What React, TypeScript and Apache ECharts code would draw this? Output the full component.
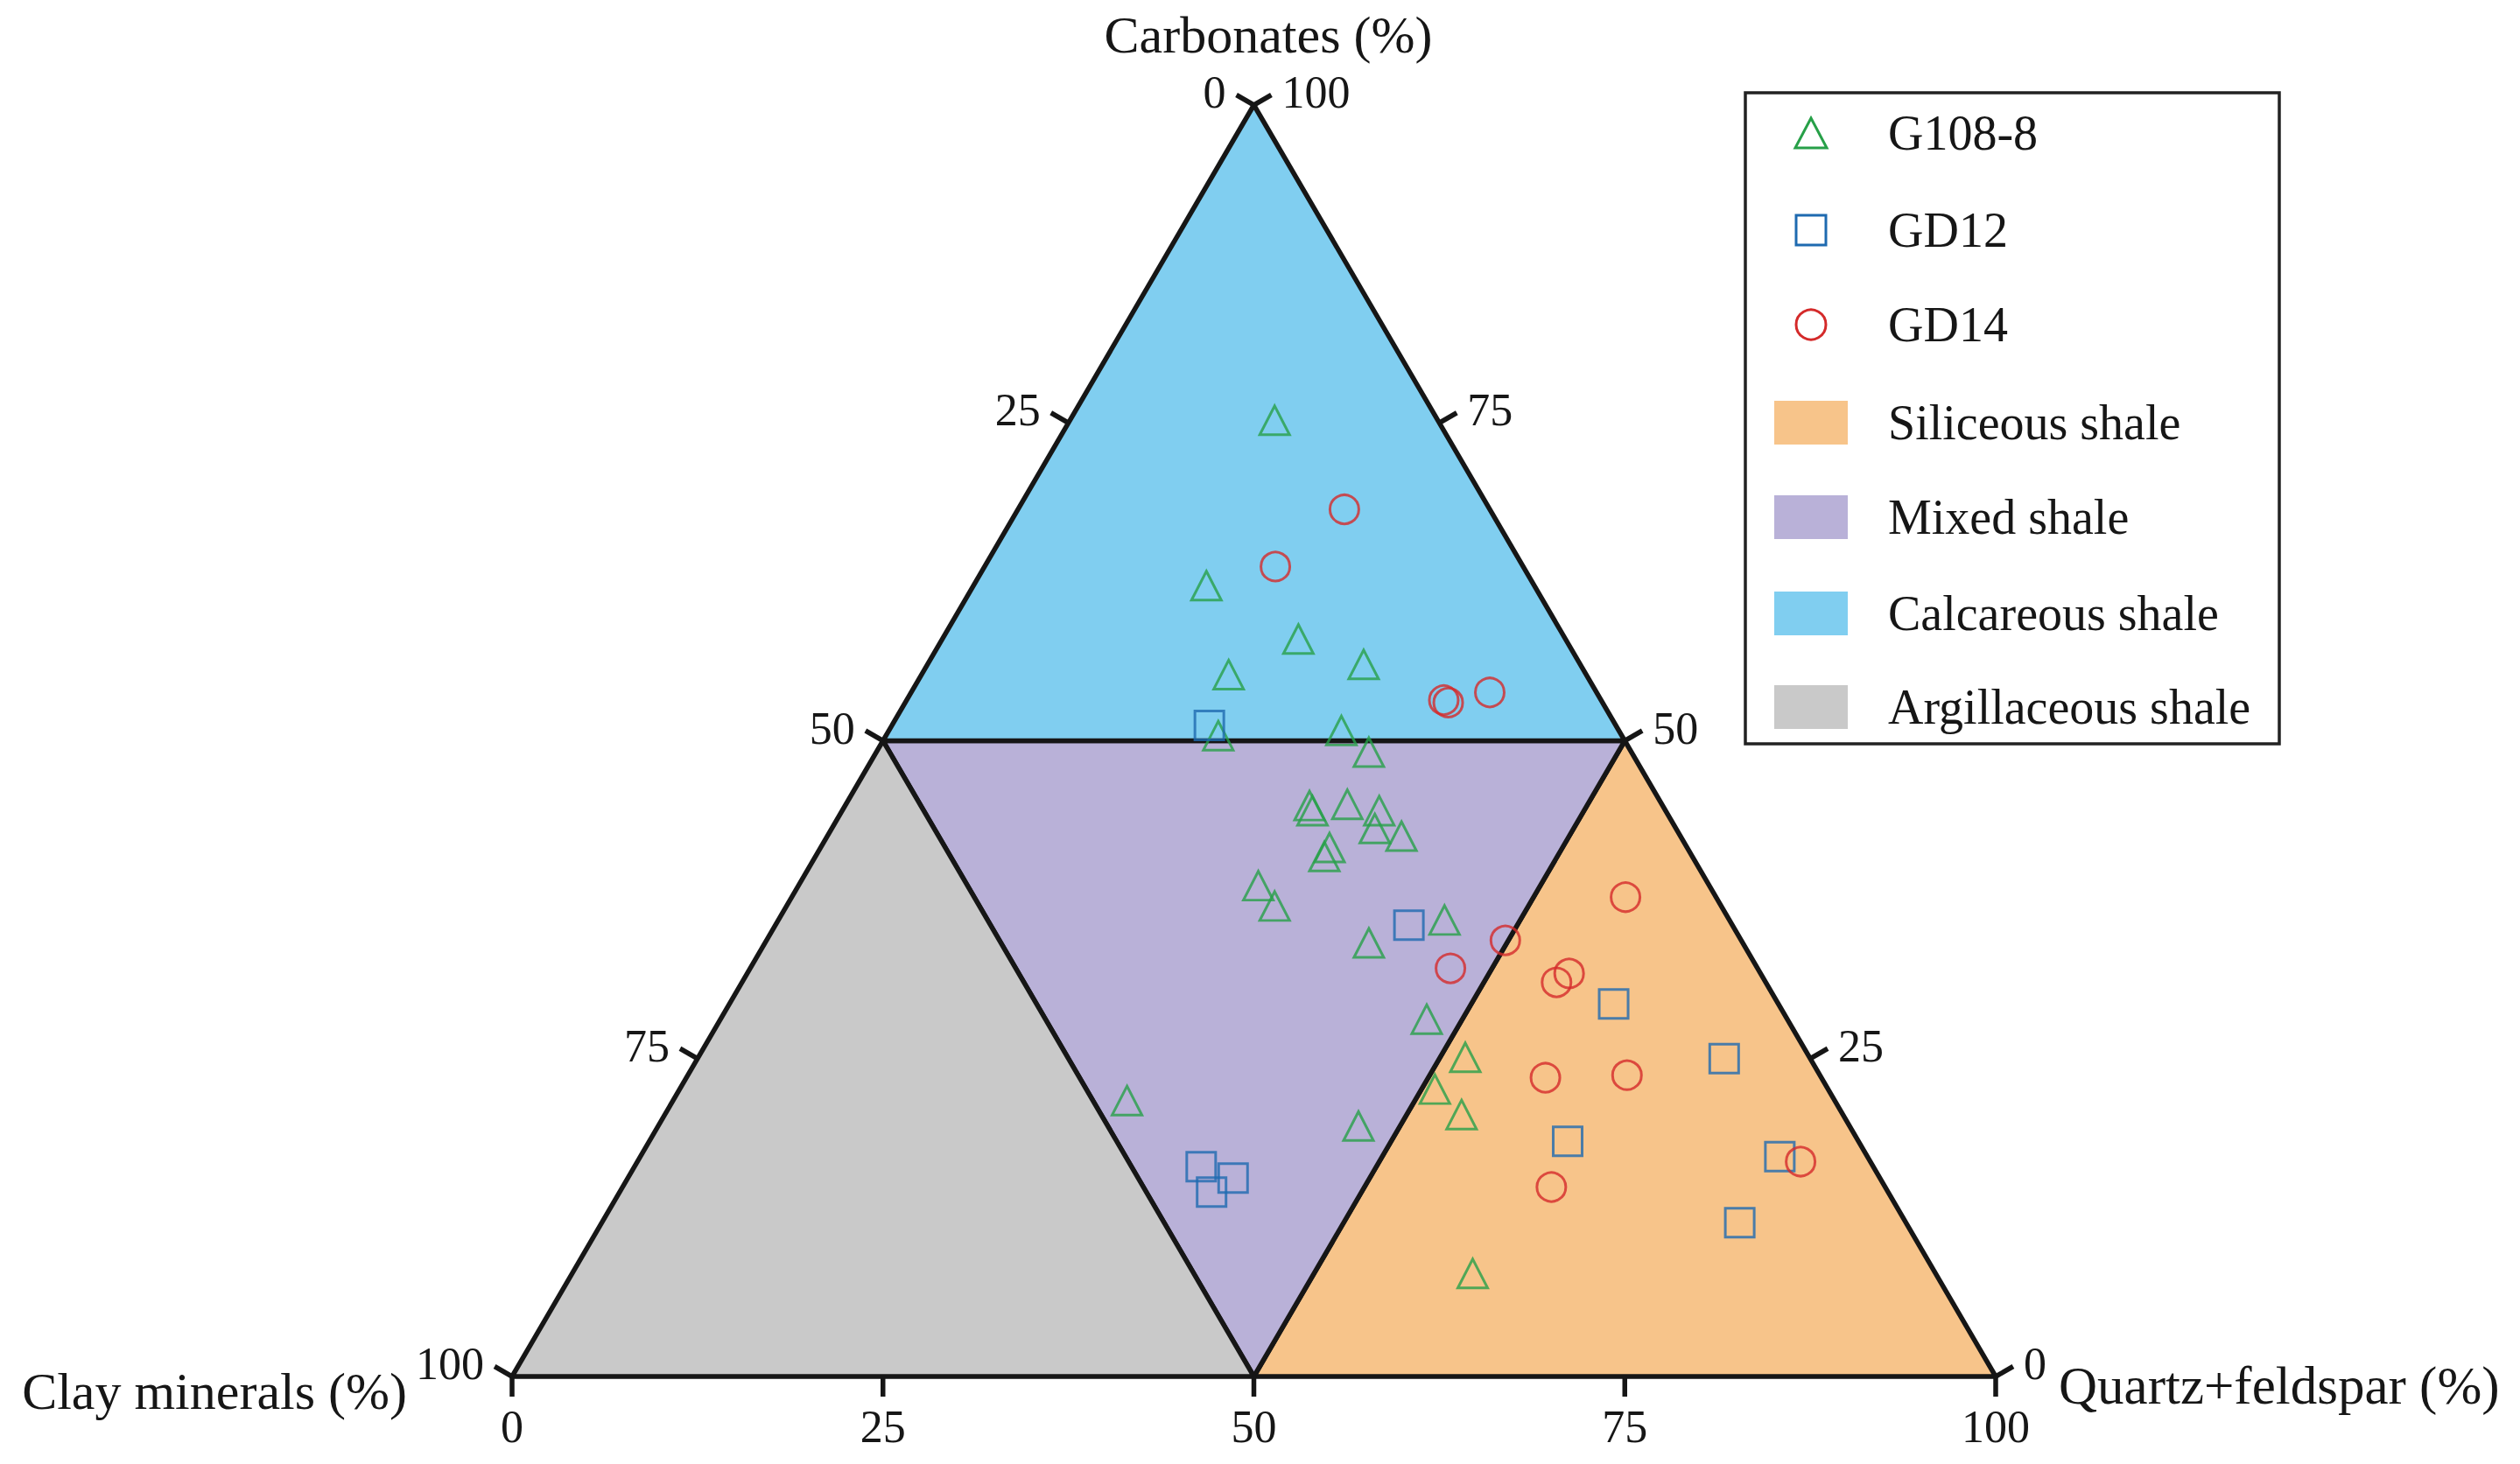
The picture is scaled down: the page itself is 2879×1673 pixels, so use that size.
import React, { useEffect, useRef } from "react";
import * as echarts from "echarts";

// Ternary samples: [Quartz+feldspar %, Carbonates %]; Clay minerals % = 100 - both
const g1088Samples: number[][] = [
  [13.8, 75.2], [15.7, 62.2], [24.0, 58.0], [20.7, 55.2], [29.4, 56.0], [22.4, 50.4],
  [30.5, 50.8], [33.2, 49.1], [31.3, 44.9], [31.7, 44.5], [33.8, 45.0], [36.2, 44.5],
  [36.6, 43.1], [38.7, 42.5], [34.3, 41.6], [34.3, 40.9], [31.0, 38.6], [32.9, 37.0],
  [44.9, 35.9], [40.7, 34.1], [47.6, 28.1], [51.7, 25.1], [50.9, 22.6], [53.7, 20.6],
  [47.2, 19.7], [30.6, 21.7], [60.7, 8.1],
];
const gd12Samples: number[][] = [
  [21.4, 51.2], [42.7, 35.5], [59.6, 29.3], [69.2, 25.0], [61.9, 18.5],
  [76.8, 17.3], [76.7, 12.1], [38.2, 16.5], [40.8, 15.6], [39.9, 14.5],
];
const gd14Samples: number[][] = [
  [22.0, 68.2], [19.6, 63.7], [36.2, 53.2], [36.6, 53.0], [39.0, 53.8], [56.2, 37.7],
  [49.8, 34.3], [47.2, 32.1], [55.4, 31.7], [54.9, 31.0], [57.9, 23.5], [63.3, 23.7],
  [78.4, 16.9], [62.6, 14.9],
];

// Lithofacies fields (vertices as [Quartz+feldspar %, Carbonates %])
const regionNames = ["Siliceous shale", "Mixed shale", "Calcareous shale", "Argillaceous shale"];
const regionColors = ["#F7C48A", "#B9B1D8", "#80CEF0", "#C9C9C9"];
const regionVertices: number[][][] = [
  [[50, 0], [50, 50], [100, 0]],
  [[0, 50], [50, 50], [50, 0]],
  [[0, 50], [0, 100], [50, 50]],
  [[0, 0], [0, 50], [50, 0]],
];

const seriesNames = ["G108-8", "GD12", "GD14"];
const seriesColors = ["#27A048", "#1E6AB0", "#D42A2A"];
const tickValues = [0, 25, 50, 75, 100];
const axisTitles = ["Clay minerals (%)", "Carbonates (%)", "Quartz+feldspar (%)"];

const FONT = "'Liberation Serif', 'Times New Roman', serif";
const INK = "#161616";
const H = Math.sqrt(3) / 2;
const toXY = (p: number[]) => [p[0] + p[1] / 2, p[1] * H];

export default function App() {
  const ref = useRef<HTMLDivElement>(null);
  useEffect(() => {
    document.body.style.margin = "0";
    const chart = echarts.init(ref.current!, null, { renderer: "svg" });

    const tickData: number[][] = [];
    [0, 1, 2].forEach((ai) => tickValues.forEach((v) => tickData.push([ai, v])));

    const legendRowsY = [152, 263, 371, 483, 591, 701, 808];
    const symX = 2069;
    const textX = 2157;
    const legendChildren: any[] = [
      {
        type: "rect",
        shape: { x: 1994, y: 106, width: 610, height: 744 },
        style: { fill: "#fff", stroke: "#222", lineWidth: 3.5 },
      },
    ];
    const s = 17;
    legendChildren.push({
      type: "polygon",
      shape: { points: [[symX, legendRowsY[0] - s], [symX - s - 1, legendRowsY[0] + s], [symX + s + 1, legendRowsY[0] + s]] },
      style: { fill: "none", stroke: seriesColors[0], lineWidth: 3 },
    });
    legendChildren.push({
      type: "rect",
      shape: { x: symX - s, y: legendRowsY[1] - s, width: 2 * s, height: 2 * s },
      style: { fill: "none", stroke: seriesColors[1], lineWidth: 3 },
    });
    legendChildren.push({
      type: "circle",
      shape: { cx: symX, cy: legendRowsY[2], r: s },
      style: { fill: "none", stroke: seriesColors[2], lineWidth: 3 },
    });
    seriesNames.forEach((n, i) =>
      legendChildren.push({
        type: "text",
        x: textX,
        y: legendRowsY[i],
        style: { text: n, fill: INK, fontSize: 56, fontFamily: FONT, align: "left", verticalAlign: "middle" },
      })
    );
    regionNames.forEach((n, i) => {
      const y = legendRowsY[3 + i];
      legendChildren.push({
        type: "rect",
        shape: { x: 2027, y: y - 25, width: 84, height: 50 },
        style: { fill: regionColors[i] },
      });
      legendChildren.push({
        type: "text",
        x: textX,
        y,
        style: { text: n, fill: INK, fontSize: 56, fontFamily: FONT, align: "left", verticalAlign: "middle" },
      });
    });

    const titleStyle = { fill: INK, fontSize: 60, fontFamily: FONT, verticalAlign: "middle" };

    const option: any = {
      animation: false,
      backgroundColor: "#ffffff",
      grid: { left: 585, top: 120, width: 1695, height: 1453 },
      xAxis: { type: "value", min: 0, max: 100, show: false },
      yAxis: { type: "value", min: 0, max: 100 * H, show: false },
      graphic: [
        { type: "text", x: 1449, y: 40, style: { ...titleStyle, text: axisTitles[1], align: "center" } },
        { type: "text", x: 465, y: 1590, style: { ...titleStyle, text: axisTitles[0], align: "right" } },
        { type: "text", x: 2352, y: 1583, style: { ...titleStyle, fontSize: 61, text: axisTitles[2], align: "left" } },
        { type: "group", children: legendChildren },
      ],
      series: [
        {
          type: "custom",
          name: "fields",
          z: 1,
          silent: true,
          data: regionNames.map((_, i) => [i, 0]),
          renderItem: (params: any, api: any) => {
            const i = params.dataIndex;
            const pts = regionVertices[i].map((p) => api.coord(toXY(p)));
            return {
              type: "polygon",
              shape: { points: pts },
              style: { fill: regionColors[i], stroke: INK, lineWidth: 5.5, lineJoin: "round" },
            };
          },
        },
        {
          type: "custom",
          name: "ticks",
          z: 2,
          silent: true,
          data: tickData,
          renderItem: (params: any, api: any) => {
            const ai = api.value(0);
            const v = api.value(1);
            let qc: number[];
            let dir: number[];
            if (ai === 0) {
              qc = [0, 100 - v];
              dir = [-H, -0.5];
            } else if (ai === 1) {
              qc = [100 - v, v];
              dir = [H, -0.5];
            } else {
              qc = [v, 0];
              dir = [0, 1];
            }
            const p = api.coord(toXY(qc));
            const L = 23;
            const e = [p[0] + dir[0] * L, p[1] + dir[1] * L];
            let tx: number, ty: number, align: string, va: string;
            if (ai === 0) {
              tx = e[0] - 12; ty = e[1] - 3; align = "right"; va = "middle";
            } else if (ai === 1) {
              tx = e[0] + 12; ty = e[1] - 3; align = "left"; va = "middle";
            } else {
              tx = e[0]; ty = e[1] + 8; align = "center"; va = "top";
            }
            return {
              type: "group",
              children: [
                {
                  type: "line",
                  shape: { x1: p[0], y1: p[1], x2: e[0], y2: e[1] },
                  style: { stroke: INK, lineWidth: 5.5 },
                },
                {
                  type: "text",
                  x: tx,
                  y: ty,
                  style: { text: String(v), fill: INK, fontSize: 52, fontFamily: FONT, align, verticalAlign: va },
                },
              ],
            };
          },
        },
        {
          type: "scatter",
          name: seriesNames[0],
          z: 5,
          data: g1088Samples.map(toXY),
          symbol: "triangle",
          symbolSize: [34, 33],
          itemStyle: { color: "rgba(0,0,0,0)", borderColor: seriesColors[0], borderWidth: 3 },
        },
        {
          type: "scatter",
          name: seriesNames[1],
          z: 5,
          data: gd12Samples.map(toXY),
          symbol: "rect",
          symbolSize: 33,
          itemStyle: { color: "rgba(0,0,0,0)", borderColor: seriesColors[1], borderWidth: 3 },
        },
        {
          type: "scatter",
          name: seriesNames[2],
          z: 5,
          data: gd14Samples.map(toXY),
          symbol: "circle",
          symbolSize: 33,
          itemStyle: { color: "rgba(0,0,0,0)", borderColor: seriesColors[2], borderWidth: 3 },
        },
      ],
    };
    chart.setOption(option);
    return () => chart.dispose();
  }, []);
  return <div ref={ref} style={{ width: 2879, height: 1673 }} />;
}
